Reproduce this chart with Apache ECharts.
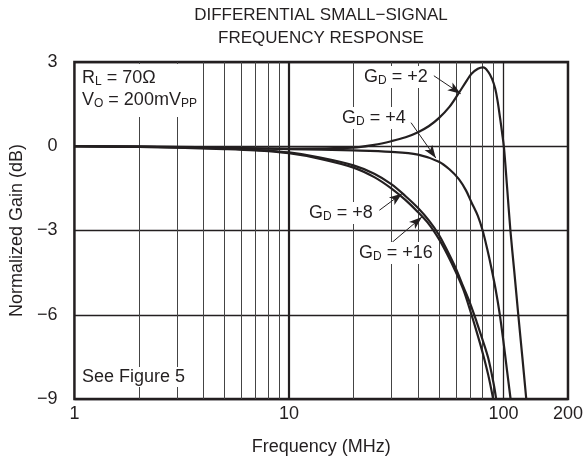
<!DOCTYPE html>
<html>
<head>
<meta charset="utf-8">
<script src="https://cdn.jsdelivr.net/npm/echarts@6/dist/echarts.min.js"></script>
<style>
  html, body { margin: 0; padding: 0; background: #fff; }
  #chart { width: 586px; height: 469px; }
</style>
</head>
<body>
<div id="chart"></div>
<script>
var FONT = '"Liberation Sans", Arial, sans-serif';
var INK = '#231f20';

// axis ticks
var xTicks = [1, 10, 100, 200];
var yTicks = [-9, -6, -3, 0, 3];
// vertical grid lines between the decades
var minorFreqs = [2, 3, 4, 5, 6, 7, 8, 9, 20, 30, 40, 50, 60, 70, 80, 90];
var majorFreqs = [10, 100];

// G_D = +2
var freqG2 = [1, 3, 10, 20, 25, 30, 35, 40, 45, 50, 56, 62, 67, 71, 76, 80.5, 85, 88.5, 91.6, 94, 96.5, 98.5, 100.6, 104, 107.8, 112.5, 117.3, 122.5, 127.8];
var gainG2 = [0, -0.02, -0.08, -0.05, 0.05, 0.18, 0.32, 0.5, 0.72, 1.0, 1.4, 1.9, 2.3, 2.58, 2.76, 2.81, 2.65, 2.4, 2.05, 1.6, 1.0, 0.5, -0.05, -1.45, -3.0, -4.5, -6.0, -7.5, -9];
// G_D = +4
var freqG4 = [1, 3, 10, 20, 30, 40, 50, 56, 62, 67, 71, 76, 80, 84, 88, 92, 96, 100, 104, 108];
var gainG4 = [0, -0.03, -0.1, -0.15, -0.2, -0.3, -0.55, -0.82, -1.17, -1.58, -2.0, -2.48, -3.0, -3.65, -4.35, -5.1, -5.95, -6.95, -8.0, -9];
// G_D = +8
var freqG8 = [1, 2, 3, 5, 7, 10, 14, 20, 25, 30, 35, 40, 45, 50, 55, 60, 65, 70, 75, 80, 85, 90, 92.5];
var gainG8 = [0, -0.02, -0.04, -0.08, -0.13, -0.22, -0.4, -0.68, -0.98, -1.35, -1.78, -2.2, -2.65, -3.15, -3.75, -4.35, -5.0, -5.6, -6.25, -6.9, -7.55, -8.45, -9];
// G_D = +16
var freqG16 = [1, 2, 3, 5, 7, 10, 14, 20, 25, 30, 35, 40, 45, 50, 55, 60, 65, 70, 75, 80, 85, 89.6];
var gainG16 = [0, -0.02, -0.05, -0.1, -0.15, -0.25, -0.45, -0.76, -1.1, -1.5, -1.92, -2.35, -2.78, -3.3, -3.88, -4.48, -5.1, -5.85, -6.6, -7.35, -8.15, -9];

// leader arrows [from, to] in (MHz, dB)
var arrowG2 = [[47.4, 2.51], [63.2, 1.87]];
var arrowG4 = [[37.1, 0.84], [48.4, -0.42]];
var arrowG8 = [[26.4, -2.28], [33.7, -1.68]];
var arrowG16 = [[30.3, -3.42], [41.7, -2.52]];

function zip(xs, ys) {
  return xs.map(function (x, i) { return [x, ys[i]]; });
}

function curve(name, xs, ys, arrow) {
  return {
    name: name,
    type: 'line',
    z: 5,
    data: zip(xs, ys),
    smooth: 0.35,
    showSymbol: false,
    lineStyle: { color: INK, width: 2.2 },
    markLine: {
      silent: true,
      symbol: ['none', 'arrow'],
      symbolSize: [7, 13],
      label: { show: false },
      lineStyle: { color: INK, width: 1, type: 'solid' },
      data: [[{ coord: arrow[0] }, { coord: arrow[1] }]]
    }
  };
}

var rich = {
  n: { fontSize: 18, fontFamily: FONT, color: INK },
  s: { fontSize: 12, fontFamily: FONT, color: INK, padding: [8, 0, 0, 0] }
};

function note(x, y, text) {
  return {
    type: 'text',
    z: 50,
    x: x,
    y: y,
    style: {
      text: text,
      rich: rich,
      fontSize: 18,
      fontFamily: FONT,
      fill: INK,
      verticalAlign: 'middle',
      backgroundColor: '#fff',
      padding: [1, 2, 1, 2]
    }
  };
}

var chart = echarts.init(document.getElementById('chart'));
chart.setOption({
  animation: false,
  backgroundColor: '#fff',
  textStyle: { fontFamily: FONT },
  grid: {
    left: 73, right: 16, top: 62, bottom: 70,
    show: true,
    borderColor: INK,
    borderWidth: 2.5,
    backgroundColor: 'transparent'
  },
  xAxis: {
    type: 'log',
    logBase: 10,
    min: 1,
    max: 200,
    name: 'Frequency (MHz)',
    nameLocation: 'middle',
    nameGap: 39,
    nameTextStyle: { fontSize: 18, color: INK, fontFamily: FONT },
    axisLine: { show: false },
    axisTick: { show: false },
    splitLine: { show: false },
    axisLabel: {
      fontSize: 18,
      color: INK,
      margin: 6,
      showMaxLabel: true,
      formatter: function (v) {
        var r = Math.round(v);
        return xTicks.indexOf(r) >= 0 ? String(r) : '';
      }
    }
  },
  yAxis: {
    type: 'value',
    min: yTicks[0],
    max: yTicks[yTicks.length - 1],
    interval: 3,
    name: 'Normalized Gain (dB)',
    nameLocation: 'middle',
    nameGap: 46,
    nameTextStyle: { fontSize: 18, color: INK, fontFamily: FONT },
    axisLine: { show: false },
    axisTick: { show: false },
    axisLabel: {
      fontSize: 18,
      color: INK,
      margin: 17,
      formatter: function (v) { return v < 0 ? '\u2212' + (-v) : String(v); }
    },
    splitLine: { show: true, lineStyle: { color: INK, width: 1.3 } }
  },
  series: [
    {
      name: 'grid',
      type: 'line',
      z: 1,
      data: [],
      markLine: {
        silent: true,
        symbol: ['none', 'none'],
        label: { show: false },
        animation: false,
        data: minorFreqs.map(function (f) {
          return { xAxis: f, lineStyle: { color: '#444', width: 1, type: 'solid' } };
        }).concat(majorFreqs.map(function (f) {
          return { xAxis: f, lineStyle: { color: INK, width: f === 10 ? 2.2 : 1.3, type: 'solid' } };
        }))
      }
    },
    curve('G2', freqG2, gainG2, arrowG2),
    curve('G4', freqG4, gainG4, arrowG4),
    curve('G8', freqG8, gainG8, arrowG8),
    curve('G16', freqG16, gainG16, arrowG16)
  ],
  graphic: [
    {
      type: 'text', x: 321, y: 15,
      style: { text: 'DIFFERENTIAL SMALL\u2212SIGNAL', fontSize: 17, fontFamily: FONT, fill: INK, align: 'center', verticalAlign: 'middle' }
    },
    {
      type: 'text', x: 321, y: 38,
      style: { text: 'FREQUENCY RESPONSE', fontSize: 17, fontFamily: FONT, fill: INK, align: 'center', verticalAlign: 'middle' }
    },
    {
      type: 'text', z: 50, x: 78, y: 64,
      style: {
        text: '{n|R}{s|L}{n| = 70\u03A9}\n{n|V}{s|O}{n| = 200mV}{s|PP}',
        rich: rich, fill: INK, lineHeight: 22,
        backgroundColor: '#fff', padding: [3, 4, 6, 4]
      }
    },
    note(80, 377, '{n|See Figure 5}'),
    note(362, 77, '{n|G}{s|D}{n| = +2}'),
    note(340, 118, '{n|G}{s|D}{n| = +4}'),
    note(307, 213, '{n|G}{s|D}{n| = +8}'),
    note(357, 253, '{n|G}{s|D}{n| = +16}')
  ]
});
</script>
</body>
</html>
